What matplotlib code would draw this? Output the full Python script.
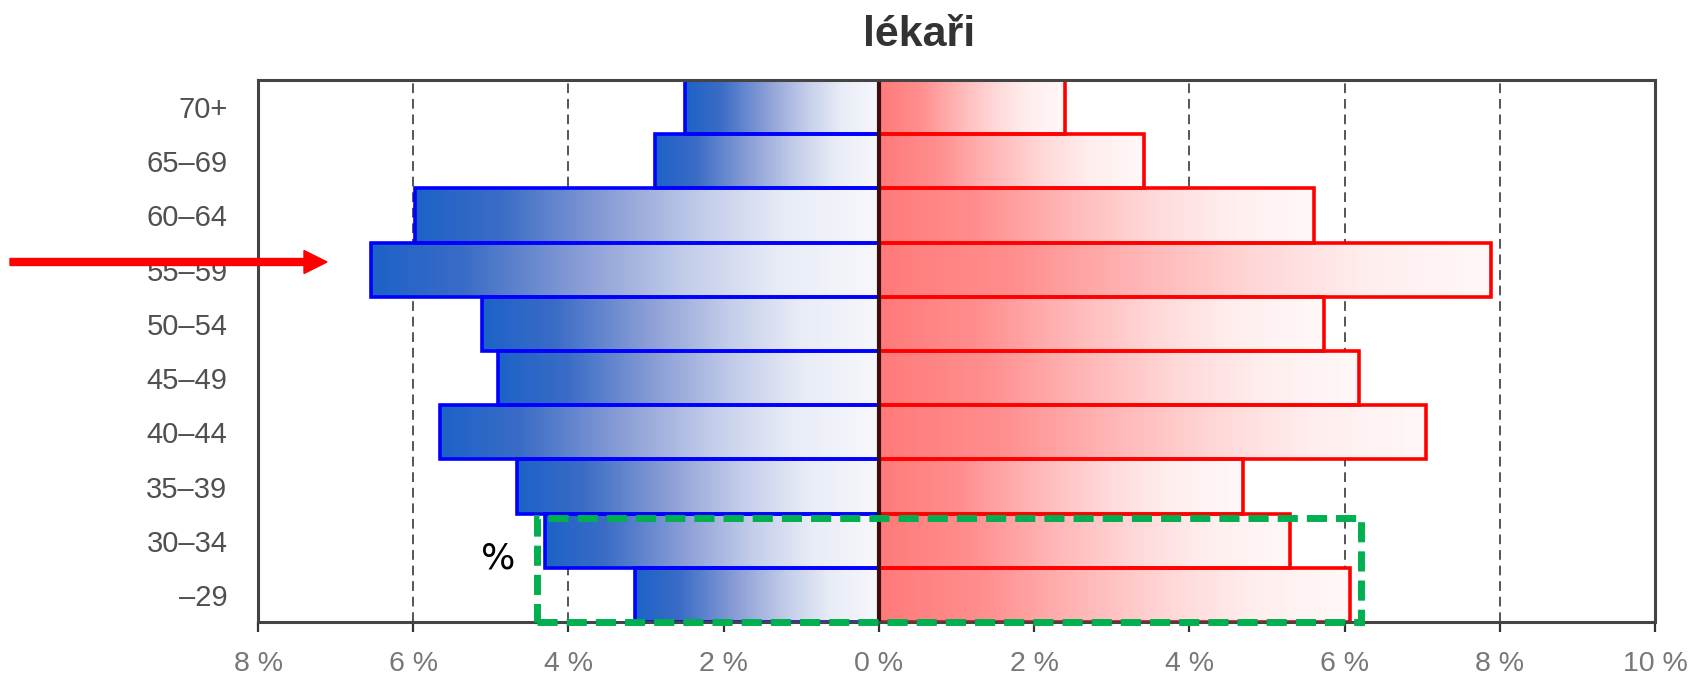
import numpy as np
import matplotlib
matplotlib.use("Agg")
import matplotlib.pyplot as plt
from matplotlib.colors import LinearSegmentedColormap
from matplotlib.patches import FancyArrow, Rectangle
from matplotlib.ticker import FixedLocator, FuncFormatter

plt.rcParams['font.family'] = ['Liberation Sans', 'DejaVu Sans']

# age groups from youngest (bottom) to oldest (top)
ages = ["\u201329", "30\u201334", "35\u201339", "40\u201344", "45\u201349",
        "50\u201354", "55\u201359", "60\u201364", "65\u201369", "70+"]
# share of doctors in each age group, %
men = [3.14, 4.30, 4.66, 5.65, 4.91, 5.12, 6.55, 5.98, 2.89, 2.50]
women = [6.07, 5.30, 4.69, 7.05, 6.19, 5.73, 7.89, 5.61, 3.41, 2.40]
xticks = [-8, -6, -4, -2, 0, 2, 4, 6, 8, 10]

blues = LinearSegmentedColormap.from_list("blues", [
    (0, "#1d62c8"), (0.18, "#3a6cc6"), (0.42, "#8c9fd6"),
    (0.62, "#c3cdea"), (0.8, "#e8ecf6"), (1, "#f7f8fc")])
reds = LinearSegmentedColormap.from_list("reds", [
    (0, "#ff7a7a"), (0.22, "#ff8e8e"), (0.42, "#ffb5b5"),
    (0.62, "#ffd8d8"), (0.8, "#ffeeee"), (1, "#fff8f8")])

fig = plt.figure(figsize=(16.91, 6.81), dpi=100)
ax = fig.add_axes([258 / 1691, 59 / 681, 1397 / 1691, 542 / 681])

y = np.arange(len(ages))
ramp = np.linspace(0, 1, 256).reshape(1, -1)

# gradient fills, one per bar
for yi, m, w in zip(y, men, women):
    ax.imshow(ramp, cmap=blues, aspect="auto", interpolation="bicubic",
              extent=(-m, 0, yi - 0.5, yi + 0.5), zorder=1)
    ax.imshow(ramp, cmap=reds, aspect="auto", interpolation="bicubic",
              extent=(0, w, yi - 0.5, yi + 0.5), zorder=1)

ax.barh(y, [-m for m in men], height=1.0, fill=False,
        edgecolor="#0000ff", linewidth=2.6, zorder=3)
ax.barh(y, women, height=1.0, fill=False,
        edgecolor="#ff0000", linewidth=2.6, zorder=3)

ax.axvline(0, color="#3b0d0d", linewidth=3, zorder=4)
for gx in xticks:
    if gx not in (-8, 0, 10):
        ax.axvline(gx, color="#555555", linewidth=1.4,
                   linestyle=(0, (5, 3)), zorder=0.5)

ax.set_xlim(-8, 10)
ax.set_ylim(-0.5, len(ages) - 0.5)
ax.xaxis.set_major_locator(FixedLocator(xticks))
ax.xaxis.set_major_formatter(FuncFormatter(lambda v, p: f"{abs(v):.0f} %"))
ax.set_yticks(y)
ax.set_yticklabels(ages)

ax.tick_params(axis="x", direction="out", length=7, width=1.6, color="#333333",
               labelsize=20.5, labelcolor="#777777", pad=14)
ax.tick_params(axis="y", length=0, labelsize=21, labelcolor="#505050", pad=22)
for s in ax.spines.values():
    s.set_color("#444444")
    s.set_linewidth(2.2)
    s.set_zorder(5)

fig.text(919 / 1691, 1 - 35 / 681, "lékaři", ha="center", va="center",
         fontsize=31, fontweight="bold", color="#333333")

# highlight on the two youngest groups
ax.add_patch(Rectangle((-4.41, -0.5), 10.62, 1.92, fill=False,
                       edgecolor="#00b050", linewidth=5,
                       linestyle=(0, (2.9, 1.3)), clip_on=False, zorder=6))
ax.text(-4.91, 0.68, "%", ha="center", va="center", fontsize=26,
        color="black", family=["DejaVu Sans"], zorder=6)

# pointer to the 55-59 row
fig.add_artist(FancyArrow(0.10, 4.19, 3.17, 0, width=0.07, head_width=0.23,
                          head_length=0.23, length_includes_head=True,
                          color="#ff0000", transform=fig.dpi_scale_trans))

fig.savefig("out.png", dpi=100)
